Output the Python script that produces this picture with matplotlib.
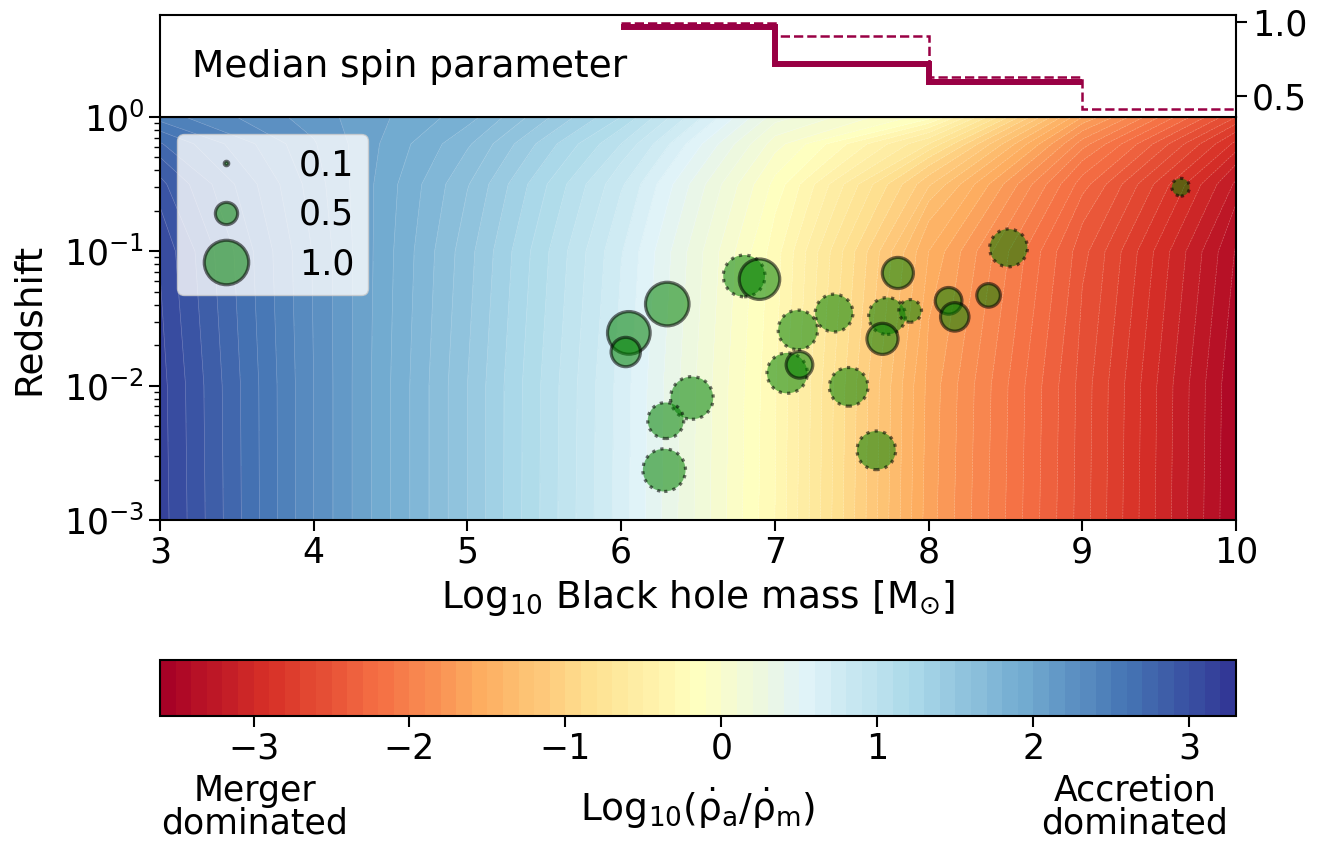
import numpy as np
import matplotlib
matplotlib.use('Agg')
import matplotlib.pyplot as plt
from matplotlib.lines import Line2D

plt.rcParams['mathtext.default'] = 'regular'

# background field: log10(accretion rate / merger rate)
grid_mass = [3, 4, 5, 6, 7, 8, 9, 10]
grid_logz = [-3, -2, -1, -0.5, -0.2, 0]
grid_ratio = [
    [3.15, 2.30, 1.50, 0.65, -0.30, -1.65, -2.55, -3.50],
    [3.14, 2.30, 1.50, 0.66, -0.29, -1.63, -2.54, -3.49],
    [3.08, 2.29, 1.54, 0.71, -0.25, -1.50, -2.46, -3.41],
    [2.93, 2.25, 1.61, 0.82, -0.13, -1.18, -2.25, -3.22],
    [2.71, 2.21, 1.72, 1.00, 0.05, -0.70, -1.95, -2.93],
    [2.45, 2.15, 1.85, 1.20, 0.25, -0.15, -1.60, -2.60],
]

# black holes with spin measurements (solid edge)
mass_a = [6.05, 6.03, 6.30, 6.90, 7.16, 7.80, 7.70, 8.13, 8.17, 8.39]
z_a = [0.0247, 0.0178, 0.0405, 0.062, 0.0143, 0.069, 0.0223, 0.0428, 0.0325, 0.047]
spin_a = [0.96, 0.66, 0.98, 0.91, 0.60, 0.70, 0.70, 0.60, 0.64, 0.53]

# black holes with spin measurements (dotted edge)
mass_b = [6.80, 7.15, 7.385, 7.73, 7.88, 7.08, 7.48, 6.46, 6.29, 6.28, 7.66, 8.52, 9.64]
z_b = [0.0656, 0.026, 0.0347, 0.033, 0.036, 0.0124, 0.0098, 0.0081, 0.0055,
       0.00235, 0.0033, 0.106, 0.30]
spin_b = [0.94, 0.89, 0.85, 0.83, 0.51, 0.91, 0.87, 0.96, 0.81, 0.96, 0.87, 0.85, 0.40]

# median spin per mass bin
bin_edges = [6, 7, 8, 9, 10]
median_a = [0.97, 0.72, 0.60]
median_b = [0.995, 0.91, 0.63, 0.415]

legend_spins = [0.1, 0.5, 1.0]

vmin, vmax = -3.6, 3.3
levels = np.linspace(vmin, vmax, 70)
cmap = plt.get_cmap('RdYlBu')
size_scale = 32.0  # marker diameter in points for spin = 1

fig = plt.figure(figsize=(13.22, 8.41), dpi=100)
ax = fig.add_axes([0.121, 0.3817, 0.814, 0.4792])
axt = fig.add_axes([0.121, 0.8609, 0.814, 0.1213])
cax = fig.add_axes([0.121, 0.1486, 0.814, 0.0666])

M, LZ = np.meshgrid(grid_mass, grid_logz)
Z = 10.0 ** LZ
R = np.array(grid_ratio)
cf = ax.contourf(M, Z, R, levels=levels, cmap=cmap, vmin=vmin, vmax=vmax)
ax.contour(M, Z, R, levels=levels, colors='white', linewidths=0.4, alpha=0.35)

ax.scatter(mass_b, z_b, s=(size_scale * np.array(spin_b)) ** 2, c='green', alpha=0.55,
           edgecolors='black', linewidths=2.3, linestyles=':', zorder=3)
ax.scatter(mass_a, z_a, s=(size_scale * np.array(spin_a)) ** 2, c='green', alpha=0.55,
           edgecolors='black', linewidths=2.3, zorder=4)

ax.set_yscale('log')
ax.set_xlim(3, 10)
ax.set_ylim(1e-3, 1)
ax.set_xticks(range(3, 11))
ax.tick_params(axis='both', which='major', labelsize=25, length=8, width=1.5)
ax.tick_params(axis='y', which='minor', length=4.5, width=1.0)
ax.set_xlabel(r'Log$_{10}$ Black hole mass [M$_{\odot}$]', fontsize=27, labelpad=6)
ax.set_ylabel('Redshift', fontsize=27, labelpad=12)
for sp in ax.spines.values():
    sp.set_linewidth(1.5)

handles = [Line2D([], [], linestyle='none', marker='o', markersize=size_scale * s,
                  markerfacecolor='green', markeredgecolor='black', markeredgewidth=2.3,
                  alpha=0.55) for s in legend_spins]
leg = ax.legend(handles, [str(s) for s in legend_spins], loc='upper left', fontsize=25,
                framealpha=0.8, borderpad=0.4, labelspacing=0.45, handletextpad=1.1,
                borderaxespad=0.5)

# top panel: median spin
axt.stairs(median_a, bin_edges[:4], color='#990044', linewidth=4.3, baseline=None)
axt.stairs(median_b, bin_edges, color='#990044', linewidth=1.8, linestyle='--',
           baseline=None)
axt.set_xlim(3, 10)
axt.set_ylim(0.36, 1.05)
axt.set_xticks([])
axt.yaxis.tick_right()
axt.set_yticks([0.5, 1.0])
axt.tick_params(axis='y', labelsize=25, length=8, width=1.5)
axt.text(0.03, 0.49, 'Median spin parameter', transform=axt.transAxes, fontsize=27,
         va='center', ha='left')
for sp in axt.spines.values():
    sp.set_linewidth(1.5)

# colorbar
cb = fig.colorbar(cf, cax=cax, orientation='horizontal')
cb.set_ticks([-3, -2, -1, 0, 1, 2, 3])
cb.ax.tick_params(labelsize=25, length=8, width=1.5)
cb.outline.set_linewidth(1.5)
cb.set_label(r'Log$_{10}$($\dot{\rho}_{a}$/$\dot{\rho}_{m}$)', fontsize=27,
             labelpad=14)
fig.text(255 / 1322, 1 - 807 / 841, 'Merger\ndominated', fontsize=25, ha='center',
         va='center', linespacing=0.95)
fig.text(1135 / 1322, 1 - 807 / 841, 'Accretion\ndominated', fontsize=25, ha='center',
         va='center', linespacing=0.95)

fig.savefig('out.png', dpi=100)
